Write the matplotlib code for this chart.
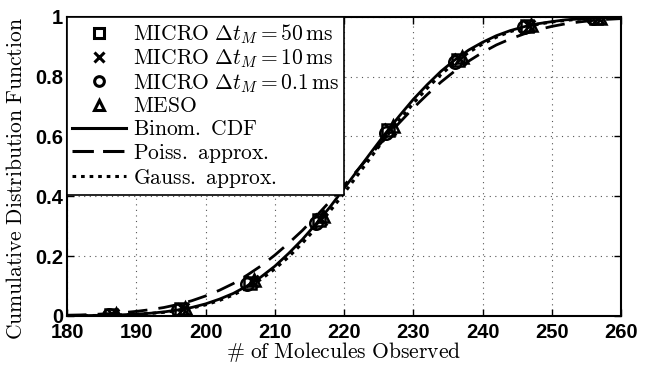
import matplotlib
matplotlib.use('Agg')
import matplotlib.pyplot as plt
from matplotlib.lines import Line2D

plt.rcParams['mathtext.fontset'] = 'cm'
plt.rcParams['font.family'] = ['Liberation Sans', 'DejaVu Sans']

# curves (every 2 molecules)
x_curve = list(range(180, 262, 2))
binom_cdf = [0.0005, 0.0008, 0.0013, 0.0023, 0.0036, 0.0057, 0.0088, 0.0132, 0.0197, 0.0281,
             0.040, 0.0559, 0.075, 0.100, 0.130, 0.166, 0.209, 0.256, 0.309, 0.365,
             0.426, 0.488, 0.550, 0.611, 0.669, 0.724, 0.773, 0.818, 0.856, 0.889,
             0.915, 0.937, 0.954, 0.967, 0.977, 0.984, 0.990, 0.993, 0.9957, 0.9973, 0.9984]
poiss_cdf = [0.0022, 0.0031, 0.0050, 0.0073, 0.0105, 0.015, 0.0207, 0.028, 0.038, 0.0505,
             0.0665, 0.0855, 0.108, 0.136, 0.167, 0.203, 0.243, 0.286, 0.334, 0.384,
             0.436, 0.489, 0.543, 0.596, 0.646, 0.695, 0.740, 0.782, 0.819, 0.852,
             0.881, 0.906, 0.926, 0.943, 0.957, 0.968, 0.9767, 0.983, 0.988, 0.9916, 0.9941]
gauss_cdf = [0.0004, 0.0007, 0.0012, 0.0020, 0.0032, 0.0051, 0.0080, 0.0119, 0.0179, 0.0259,
             0.0367, 0.0515, 0.0698, 0.0934, 0.122, 0.157, 0.197, 0.2435, 0.295, 0.351,
             0.410, 0.472, 0.534, 0.596, 0.655, 0.7105, 0.761, 0.807, 0.847, 0.881,
             0.909, 0.932, 0.9505, 0.964, 0.975, 0.983, 0.988, 0.9925, 0.9952, 0.9969, 0.9981]

# simulation points
x_circ = [186, 196, 206, 216, 226, 236, 246, 256]
y_circ = [0.003, 0.02, 0.105, 0.31, 0.61, 0.85, 0.967, 0.995]
x_sq = [186.4, 196.4, 206.4, 216.4, 226.4, 236.4, 246.4, 256.4]
y_sq = [0.004, 0.022, 0.11, 0.32, 0.62, 0.855, 0.968, 0.995]
x_cross = [186.7, 196.7, 206.7, 216.7, 226.7, 236.7, 246.7, 256.7]
y_cross = [0.004, 0.023, 0.115, 0.325, 0.625, 0.86, 0.97, 0.996]
x_tri = [187, 197, 207, 217, 227, 237, 247, 257]
y_tri = [0.005, 0.025, 0.12, 0.335, 0.635, 0.865, 0.972, 0.996]

fig = plt.figure(figsize=(6.51, 3.66), dpi=100)
ax = fig.add_axes([0.103, 0.137, 0.851, 0.817])

ax.plot(x_curve, binom_cdf, '-', color='k', lw=2)
ax.plot(x_curve, poiss_cdf, '--', color='k', lw=2, dashes=(7, 4))
ax.plot(x_curve, gauss_cdf, ':', color='k', lw=2.2, dashes=(1.2, 1.6))

mk = dict(color='k', mfc='none', mew=1.8, ls='none', ms=9)
ax.plot(x_sq, y_sq, marker='s', **mk)
ax.plot(x_cross, y_cross, marker='x', **mk)
ax.plot(x_circ, y_circ, marker='o', **mk)
ax.plot(x_tri, y_tri, marker='^', **mk)

ax.set_xlim(180, 260)
ax.set_ylim(0, 1)
ax.set_xticks(range(180, 261, 10))
ax.set_yticks([0, 0.2, 0.4, 0.6, 0.8, 1])
ax.set_yticklabels(['0', '0.2', '0.4', '0.6', '0.8', '1'])
for lab in ax.get_xticklabels() + ax.get_yticklabels():
    lab.set_fontweight('bold')
    lab.set_fontsize(14.5)
ax.tick_params(direction='in', top=True, right=True, length=5, width=1)
ax.tick_params(axis='x', pad=5)
ax.tick_params(axis='y', pad=3)
for s in ax.spines.values():
    s.set_linewidth(1.5)
ax.grid(True, ls=(0, (1, 4)), color='#555555', lw=0.8)

ax.set_xlabel(r'$\#\ \mathrm{of\ Molecules\ Observed}$', fontsize=15.5, labelpad=-1)
ax.set_ylabel(r'$\mathrm{Cumulative\ Distribution\ Function}$', fontsize=15.5)
ax.yaxis.set_label_coords(-0.072, 0.46)

lmk = dict(color='k', mfc='none', mew=2.2, ls='none', ms=7)
handles = [
    Line2D([], [], marker='s', **lmk),
    Line2D([], [], marker='x', **lmk),
    Line2D([], [], marker='o', **lmk),
    Line2D([], [], marker='^', **lmk),
    Line2D([], [], color='k', lw=2.2),
    Line2D([], [], color='k', lw=2.2, ls='--', dashes=(7, 3)),
    Line2D([], [], color='k', lw=2.2, ls=':', dashes=(1.2, 1.6)),
]
labels = [
    r'$\mathrm{MICRO}\ \Delta t_M = 50\,\mathrm{ms}$',
    r'$\mathrm{MICRO}\ \Delta t_M = 10\,\mathrm{ms}$',
    r'$\mathrm{MICRO}\ \Delta t_M = 0.1\,\mathrm{ms}$',
    r'$\mathrm{MESO}$',
    r'$\mathrm{Binom.\ CDF}$',
    r'$\mathrm{Poiss.\ approx.}$',
    r'$\mathrm{Gauss.\ approx.}$',
]
leg = ax.legend(handles, labels, loc='upper left', fontsize=15.5, frameon=True, fancybox=False,
                edgecolor='k', framealpha=1, borderaxespad=0, handlelength=2.5,
                handletextpad=0.3, labelspacing=0.08, borderpad=0.25)
leg.get_frame().set_linewidth(1.2)

fig.savefig('out.png', dpi=100)
